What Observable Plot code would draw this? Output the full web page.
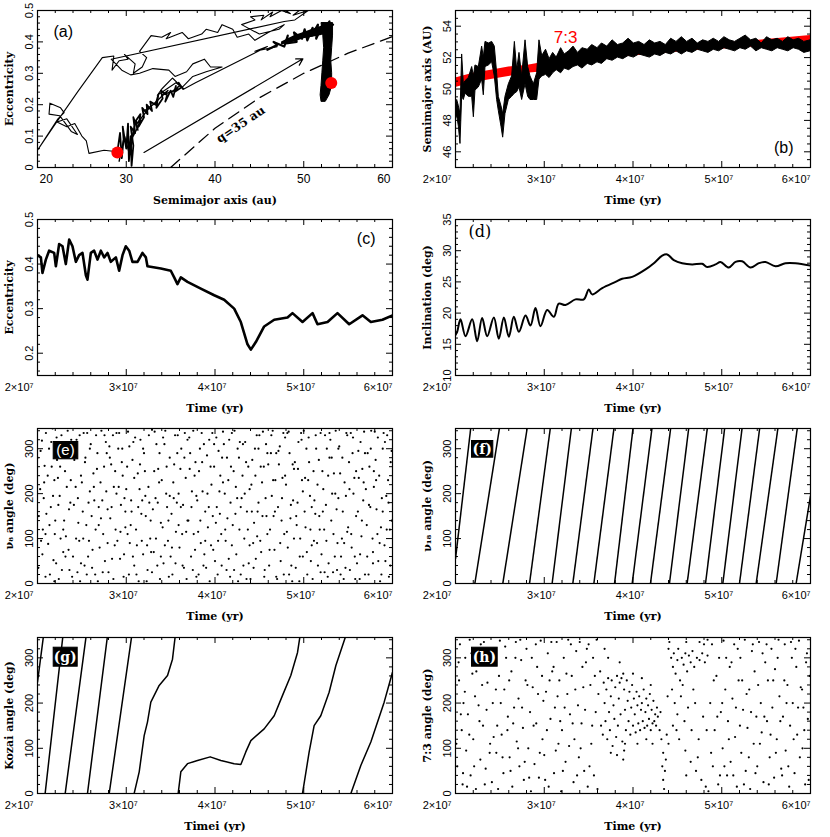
<!DOCTYPE html>
<html><head><meta charset="utf-8">
<script src="https://cdn.jsdelivr.net/npm/d3@7"></script>
<script src="https://cdn.jsdelivr.net/npm/@observablehq/plot@0.6"></script>
<style>
body{margin:0;background:#fff}
#wrap{position:relative;width:830px;height:837px;background:#fff}
</style>
</head><body><div id="wrap"></div>
<script>
// ---------- tick labels ----------
const timeVals = [20, 30, 40, 50, 60]; // Myr
const timeLabels = ["2×10⁷", "3×10⁷", "4×10⁷", "5×10⁷", "6×10⁷"];
const aAxisVals = [20, 30, 40, 50, 60];
const aAxisLabels = ["20", "30", "40", "50", "60"];
const eccVals = [0, 0.1, 0.2, 0.3, 0.4, 0.5];
const eccLabels = ["0", "0.1", "0.2", "0.3", "0.4", "0.5"];
const smaVals = [46, 48, 50, 52, 54];
const smaLabels = ["46", "48", "50", "52", "54"];
const ecc2Vals = [0.2, 0.3, 0.4, 0.5];
const ecc2Labels = ["0.2", "0.3", "0.4", "0.5"];
const incVals = [10, 15, 20, 25, 30, 35];
const incLabels = ["10", "15", "20", "25", "30", "35"];
const angVals = [0, 100, 200, 300];
const angLabels = ["0", "100", "200", "300"];

// ---------- panel (a) ----------
const aThin = [[29.0,0.05],[27.5,0.055],[25.8,0.045],[25.5,0.085],[25.0,0.1],[24.2,0.14],[23.3,0.13],[22.2,0.145],[23.3,0.155],[24.5,0.105],[23.8,0.115],[22.5,0.165],[21.3,0.17],[21.4,0.205],[22.6,0.19],[23.0,0.175],[22.3,0.155],[20.0,0.055],[21.8,0.13],[24.5,0.24],[27.3,0.35],[28.6,0.355],[28.4,0.31],[29.2,0.34],[30.2,0.345],[29.8,0.36],[31.0,0.33],[30.8,0.3],[31.8,0.32],[32.3,0.35],[31.5,0.37],[32.8,0.42],[34.0,0.415],[35.0,0.43],[34.5,0.41],[36.3,0.43],[37.0,0.41],[38.5,0.425],[39.0,0.44],[40.3,0.43],[40.8,0.455],[42.0,0.44],[42.5,0.415],[43.8,0.425],[44.5,0.405],[46.0,0.43],[47.8,0.455],[47.2,0.44],[45.0,0.425],[43.0,0.455],[44.5,0.47],[44.0,0.48],[45.5,0.485],[45.2,0.47],[46.5,0.495],[46.2,0.48],[47.5,0.5],[48.5,0.49],[48.0,0.5],[49.5,0.5],[48.8,0.485],[50.5,0.5],[49.0,0.47],[47.8,0.465],[28.3,0.345],[29.5,0.31],[30.5,0.295],[31.5,0.3],[33.0,0.315],[34.8,0.31],[35.5,0.29],[36.8,0.305],[37.5,0.33],[38.8,0.345],[39.5,0.32],[40.8,0.32],[39.0,0.305],[37.5,0.29],[36.3,0.255],[35.2,0.285],[34.0,0.25],[33.5,0.23],[35.6,0.27],[36.5,0.25],[37.8,0.27],[45.9,0.385],[44.5,0.37],[47.0,0.385]];
const aDense = [[29.0,0.05],[29.3,0.11],[29.5,0.03],[29.7,0.09],[29.6,0.13],[30.0,0.06],[30.2,0.14],[30.3,0.02],[30.5,0.1],[30.6,0.005],[30.8,0.07],[30.5,0.13],[31.0,0.11],[30.8,0.16],[31.3,0.12],[31.1,0.15],[31.6,0.17],[31.4,0.13],[32.0,0.16],[31.8,0.19],[32.4,0.17],[32.3,0.2],[32.9,0.18],[32.7,0.21],[33.3,0.2],[33.6,0.23],[33.4,0.19],[34.1,0.22],[33.9,0.245],[34.6,0.23],[34.4,0.21],[35.0,0.245],[35.3,0.225],[35.6,0.26],[35.4,0.24],[36.2,0.255],[35.9,0.27],[36.4,0.25]];
const aDense2 = [[29.2,0.02],[29.8,0.1],[30.4,0.04],[30.9,0.13],[30.6,0.09],[31.7,0.15],[31.2,0.14],[32.6,0.19],[32.0,0.18],[33.5,0.21],[33.0,0.2],[34.7,0.245],[34.0,0.23],[35.8,0.25],[35.1,0.24],[36.0,0.26]];
const aBlobLine = [[45.9,0.375],[47.0,0.39],[46.6,0.40],[47.8,0.385],[48.2,0.42],[48.0,0.395],[49.2,0.40],[48.9,0.43],[49.8,0.41],[50.1,0.44],[50.4,0.405],[51.0,0.445],[50.9,0.42],[51.6,0.455],[51.4,0.41],[52.2,0.46],[52.0,0.43],[52.9,0.465],[52.6,0.44],[53.3,0.455]];
const blobA = [47.5, 49, 50, 51, 52, 53];
const blobLo = [0.39, 0.40, 0.41, 0.415, 0.42, 0.43];
const blobHi = [0.40, 0.42, 0.43, 0.44, 0.45, 0.46];
const bandE = [0.21, 0.23, 0.26, 0.30, 0.34, 0.38, 0.42, 0.46];
const bandL = [52.0, 51.9, 52.0, 52.1, 52.2, 52.3, 52.2, 52.0];
const bandR = [52.5, 52.9, 53.2, 53.2, 53.1, 53.2, 53.3, 53.3];
const qA = [35, 40, 45, 50, 55, 60];
const qE = [0, 0.125, 0.222, 0.3, 0.364, 0.417];
const dotA = [29.0, 53.1];
const dotE = [0.048, 0.269];
const arrowA = [32.0, 49.9];
const arrowE = [0.048, 0.346];
const qLabel = {a: 42.9, e: 0.137, text: "q=35 au"};

// ---------- panel (b) ----------
const bT = [20.0,20.19,20.38,20.56,20.75,20.94,21.13,21.5,21.88,22.07,22.25,22.63,23.0,23.19,23.38,23.76,24.13,24.43,24.69,24.88,25.18,25.37,25.63,26.01,26.38,26.69,26.95,27.21,27.51,27.89,28.19,28.45,28.83,29.2,29.46,
  29.77,30.2,30.6,31.0,31.4,31.9,32.3,32.8,33.3,33.8,34.3,34.9,35.4,36.0,36.5,37.1,37.7,38.3,38.9,39.5,40.1,40.7,41.3,41.9,42.5,43.1,43.7,44.3,44.9,45.5,46.1,46.7,47.3,47.9,48.5,49.1,49.7,50.3,50.9,51.5,52.1,52.7,53.3,53.9,54.5,55.1,55.7,56.3,56.9,57.5,58.1,58.7,59.3,60.0];
const bHi = [48.9,49.3,48.9,48.4,52.2,50.3,50.5,50.7,51.4,50.8,51.5,51.4,52.7,52.0,53.0,52.9,53.0,52.7,51.0,49.5,48.9,48.4,49.5,50.3,50.8,53.0,51.2,52.3,50.8,53.1,51.4,50.8,50.3,51.0,53.1,
  52.1,52.5,51.9,52.3,52.0,52.6,52.2,52.4,52.7,52.3,52.6,52.5,52.8,52.6,52.9,52.7,53.1,52.8,52.9,53.2,52.9,53.0,52.8,53.1,52.9,53.0,52.8,53.2,53.0,53.3,53.0,53.2,52.9,53.1,53.0,53.2,53.0,53.3,53.1,53.0,53.2,53.4,53.1,53.2,52.9,53.3,53.1,53.2,53.0,53.3,53.1,53.2,53.0,53.1];
const bLo = [48.0,48.3,47.6,46.5,49.5,49.3,49.7,49.5,49.5,48.2,49.9,50.1,50.6,49.6,51.4,51.5,51.7,50.8,49.3,48.6,47.6,46.9,48.4,49.3,49.5,49.7,49.8,50.1,49.3,50.3,49.5,49.3,49.3,49.3,50.6,
  50.8,50.9,50.7,51.0,51.2,51.0,51.3,51.2,51.4,51.5,51.3,51.6,51.5,51.7,51.6,51.9,51.8,52.0,51.9,52.1,52.0,52.2,52.1,52.0,52.2,52.1,52.3,52.2,52.4,52.2,52.4,52.3,52.5,52.4,52.3,52.5,52.4,52.6,52.5,52.4,52.6,52.5,52.7,52.4,52.6,52.5,52.4,52.6,52.5,52.4,52.6,52.5,52.3,52.4];
const rT = [20,22,24,26,28,30,32,34,36,38,40,44,48,52,56,60];
const rLo = [50.1,50.4,50.6,50.8,51.0,51.1,51.3,51.6,51.8,52.0,52.1,52.3,52.5,52.6,52.8,53.0];
const rHi = [50.7,51.0,51.2,51.4,51.5,51.7,51.9,52.1,52.3,52.5,52.6,52.7,52.9,53.0,53.2,53.4];
const resLabel = {t: 32.4, a: 53.3, text: "7:3"};

// ---------- panel (c) ----------
const cT = [20.0,20.38,20.56,20.94,21.31,21.88,22.07,22.44,22.82,23.19,23.57,23.94,24.32,24.69,25.07,25.45,25.63,26.01,26.38,26.76,27.14,27.51,27.89,28.26,28.83,29.2,29.58,29.95,30.33,30.7,31.27,31.83,32.21,32.39,33.9,35.02,35.4,35.77,36.15,36.9,38.4,39.91,41.03,42.16,42.91,43.66,44.04,44.6,45.54,46.67,48.17,48.73,49.86,50.99,51.55,52.68,53.8,55.12,56.62,57.56,58.87,60.0];
const cE = [0.42,0.415,0.38,0.41,0.43,0.425,0.395,0.445,0.44,0.40,0.455,0.44,0.405,0.42,0.425,0.375,0.365,0.425,0.43,0.41,0.43,0.415,0.425,0.405,0.415,0.385,0.42,0.44,0.43,0.405,0.405,0.425,0.415,0.395,0.39,0.385,0.37,0.355,0.37,0.36,0.345,0.33,0.32,0.30,0.27,0.22,0.208,0.225,0.26,0.275,0.28,0.29,0.27,0.29,0.265,0.27,0.29,0.265,0.285,0.27,0.275,0.285];

// ---------- panel (d) ----------
const dT = [20.0,20.19,20.56,21.13,21.88,22.44,23.0,23.57,24.32,24.88,25.45,26.01,26.57,27.14,27.89,28.45,29.01,29.58,30.33,31.08,31.64,32.39,33.52,34.46,35.02,35.4,36.53,38.03,38.78,39.91,41.41,42.35,43.29,43.85,44.6,45.54,46.67,47.79,48.36,49.3,49.86,50.8,51.55,52.3,53.24,54.18,54.93,56.06,57.18,58.31,60.0];
const dI = [16.5,17,19,16.3,19,15.5,19.2,16.3,19.3,15.9,19.3,16.2,19.4,17,19.6,18,20.8,17.9,20.5,19.4,21.5,21.3,22.2,22.2,23.8,23,24,25,25.5,25.8,27,28,29.2,29.4,28.5,28,27.8,27.9,27.4,27.8,28.2,27.3,28.2,28.3,27.3,28,28.2,27.5,28,28,27.6];

// ---------- panel (e): nu8 angle samples [t, angle] ----------
const ePts = [20.1,35,20.3,210,20.5,318,20.6,120,20.8,262,20.9,15,21.2,88,21.3,300,21.5,170,21.7,345,21.8,52,21.9,230,22.0,140,22.2,275,22.4,10,22.5,195,22.7,330,22.9,70,23.1,250,23.2,105,23.4,340,23.6,30,23.7,180,23.9,290,24.0,60,24.3,215,24.4,320,24.6,135,24.8,5,24.9,240,25.1,160,25.3,40,25.4,280,25.6,335,25.8,95,25.9,205,26.0,310,26.2,75,26.4,185,26.5,20,26.7,255,26.9,130,27.1,225,27.2,340,27.4,110,27.6,50,27.8,290,27.9,165,28.0,25,28.2,145,28.3,265,28.5,330,28.7,85,28.9,200,29.1,300,29.3,55,29.4,175,29.6,240,29.7,15,29.9,125,30.0,210,30.2,338,30.4,90,30.6,160,30.7,275,30.9,40,31.1,120,31.3,245,31.4,5,31.6,320,31.8,185,31.9,65,32.0,290,32.2,150,32.4,30,32.5,215,32.7,100,32.9,342,33.1,70,33.3,190,33.4,310,33.6,255,33.8,10,33.9,135,34.0,230,34.2,45,34.4,340,34.6,170,34.7,95,34.9,280,35.1,155,35.2,20,35.4,265,35.6,115,35.8,330,35.9,200,36.0,80,36.2,300,36.4,175,36.5,35,36.7,235,36.9,140,37.1,325,37.3,60,37.4,205,37.6,110,37.8,270,37.9,15,38.0,185,38.2,250,38.4,90,38.5,335,38.7,40,38.9,160,39.1,285,39.2,125,39.4,5,39.6,220,39.8,75,39.9,310,40.0,50,40.2,170,40.4,295,40.6,240,40.7,110,40.9,338,41.1,200,41.3,30,41.4,145,41.6,320,41.8,260,41.9,85,42.0,130,42.2,340,42.4,65,42.5,190,42.7,280,42.9,20,43.1,240,43.3,100,43.4,315,43.6,160,43.8,45,43.9,210,44.0,10,44.2,275,44.4,135,44.6,55,44.7,330,44.9,180,45.1,95,45.3,225,45.4,338,45.6,30,45.8,150,45.9,290,46.0,265,46.2,120,46.4,195,46.5,340,46.7,75,46.9,15,47.1,170,47.3,305,47.4,50,47.6,235,47.8,110,47.9,325,48.0,220,48.2,80,48.4,290,48.5,145,48.7,5,48.9,255,49.1,35,49.3,180,49.4,315,49.6,100,49.8,230,49.9,60,50.0,340,50.2,125,50.4,20,50.6,270,50.7,195,50.9,85,51.1,250,51.3,155,51.4,300,51.6,40,51.8,120,51.9,335,52.0,65,52.2,210,52.4,330,52.5,175,52.7,15,52.9,280,53.1,140,53.3,25,53.4,245,53.6,340,53.8,90,53.9,190,54.0,305,54.2,60,54.4,160,54.6,225,54.7,35,54.9,115,55.1,270,55.3,335,55.4,80,55.6,200,55.8,10,55.9,150,56.0,45,56.2,235,56.4,315,56.5,105,56.7,185,56.9,290,57.1,130,57.3,20,57.4,260,57.6,340,57.8,70,57.9,215,58.0,338,58.2,165,58.4,50,58.5,240,58.7,125,58.9,300,59.1,85,59.3,195,59.4,330,59.6,15,59.8,270,59.9,140,
20.0,280,20.4,95,20.7,190,20.95,335,21.0,155,21.4,20,21.6,260,21.95,110,22.1,45,22.3,235,22.6,100,22.8,305,23.0,140,23.3,215,23.5,75,23.8,320,24.1,175,24.2,290,24.5,25,24.7,95,25.0,225,25.2,335,25.5,130,25.7,60,26.1,150,26.3,245,26.6,330,26.8,5,27.0,80,27.3,185,27.5,260,27.7,315,28.1,305,28.4,55,28.6,215,28.8,120,29.0,95,29.2,335,29.5,270,29.8,190,30.1,260,30.3,20,30.5,130,30.8,315,31.0,325,31.2,85,31.5,210,31.7,155,32.1,250,32.3,5,32.6,180,32.8,70,33.0,165,33.2,338,33.5,40,33.7,225,34.1,125,34.3,310,34.5,200,34.8,15,35.0,60,35.3,225,35.5,330,35.7,180,36.1,255,36.3,110,36.6,335,36.8,10,37.0,140,37.2,290,37.5,30,37.7,240,38.1,115,38.3,300,38.6,205,38.8,65,39.0,35,39.3,170,39.5,260,39.7,335,40.1,135,40.3,20,40.5,205,40.8,280,41.0,310,41.2,95,41.5,230,41.7,15,42.1,250,42.3,155,42.6,5,42.8,315,43.0,190,43.2,40,43.5,270,43.7,120,44.1,220,44.3,90,44.5,300,44.8,160,45.0,330,45.2,70,45.5,260,45.7,190,46.1,40,46.3,290,46.6,150,46.8,230,47.0,10,47.2,265,47.5,140,47.7,335,48.1,115,48.3,338,48.6,40,48.8,185,49.0,270,49.2,130,49.5,5,49.7,335,50.1,160,50.3,300,50.5,230,50.8,50,51.0,10,51.2,185,51.5,90,51.7,275,52.1,250,52.3,120,52.6,300,52.8,45,53.0,320,53.2,200,53.5,60,53.7,165,54.1,245,54.3,100,54.5,10,54.8,335,55.0,125,55.2,30,55.5,290,55.7,235,56.1,160,56.3,10,56.6,255,56.8,338,57.0,210,57.2,290,57.5,170,57.8,45,58.1,275,58.3,110,58.6,5,58.8,190,59.0,335,59.2,50,59.5,230,59.7,120,
20.15,150,20.35,295,20.55,65,20.75,225,20.9,110,21.15,240,21.35,130,21.55,315,21.75,195,21.9,5,22.15,325,22.35,175,22.55,260,22.75,30,22.9,120,23.15,60,23.35,290,23.55,165,23.75,230,23.9,15,24.15,275,24.35,100,24.55,190,24.75,330,24.9,45,25.15,100,25.35,270,25.55,20,25.75,180,25.9,300,26.15,35,26.35,215,26.55,120,26.75,290,26.9,170,27.15,145,27.35,25,27.55,330,27.75,205,27.9,90,28.15,280,28.35,170,28.55,10,28.75,250,28.9,335,29.15,215,29.35,115,29.55,300,29.75,65,29.9,160,30.15,110,30.35,305,30.55,185,30.75,60,30.9,235,31.15,20,31.35,170,31.55,265,31.75,95,31.9,300,32.15,195,32.35,85,32.55,330,32.75,140,32.9,25,33.15,250,33.35,100,33.55,180,33.75,290,33.9,60,34.15,325,34.35,85,34.55,260,34.75,140,34.9,195,35.15,80,35.35,190,35.55,45,35.75,290,35.9,130,36.15,170,36.35,40,36.55,280,36.75,115,36.9,320,37.15,255,37.35,170,37.55,340,37.75,75,37.9,195,38.15,20,38.35,140,38.55,270,38.75,310,38.9,95,39.15,200,39.35,320,39.55,85,39.75,150,39.9,260,40.15,325,40.35,95,40.55,155,40.75,40,40.9,225,41.15,120,41.35,280,41.55,55,41.75,180,41.9,335,42.15,30,42.35,215,42.55,300,42.75,120,42.9,170,43.15,310,43.35,200,43.55,10,43.75,260,43.9,85,44.15,160,44.35,35,44.55,240,44.75,105,44.9,300,45.15,260,45.35,150,45.55,15,45.75,310,45.9,110,46.15,75,46.35,330,46.55,230,46.75,160,46.9,290,47.15,295,47.35,90,47.55,190,47.75,20,47.9,240,48.15,335,48.35,20,48.55,175,48.75,265,48.9,100,49.15,150,49.35,255,49.55,60,49.75,320,49.9,205,50.15,235,50.35,70,50.55,325,50.75,120,50.9,170,51.15,95,51.35,330,51.55,220,51.75,150,51.9,25,52.15,160,52.35,25,52.55,95,52.75,240,52.9,335,53.15,280,53.35,110,53.55,200,53.75,30,53.9,300,54.15,20,54.35,280,54.55,90,54.75,195,54.9,330,55.15,210,55.35,110,55.55,325,55.75,60,55.9,250,56.15,295,56.35,65,56.55,140,56.75,225,56.9,20,57.15,60,57.35,175,57.55,300,57.75,100,57.9,250,58.15,230,58.35,325,58.55,90,58.75,20,58.9,160,59.15,315,59.35,120,59.55,180,59.75,40,59.9,295];

// ---------- panel (f): nu18 circulation segments ----------
const fStart = [20.0,22.18,25.33,28.34,30.89,33.22,35.59,37.92,39.91,41.97,44.11,46.1,48.17,50.12,52.0,53.88,56.13,58.38];
const fStartAngle = [55,0,0,0,0,0,0,0,0,0,0,0,0,0,0,0,0,0];
const fEnd = [21.8,25.07,28.19,30.78,33.15,35.59,37.95,40.09,42.23,44.34,46.37,48.47,50.42,52.38,54.37,56.43,58.61,60.0];
const fEndAngle = [360,360,360,360,360,360,360,360,360,360,360,360,360,360,360,360,360,195];

// ---------- panel (g): Kozai angle branches ----------
const gLines = [
  [[20.0,246],[20.75,360]],
  [[20.86,0],[22.93,360]],
  [[23.12,0],[25.56,360]],
  [[25.63,0],[27.96,360]],
  [[28.08,0],[30.7,360]],
  [[30.89,0],[31.46,48],[32.02,128],[32.39,158],[32.77,202],[33.71,239],[34.65,261],[35.21,297],[35.59,360]],
  [[35.85,0],[36.15,48],[36.9,66],[38.03,73],[39.46,81],[40.66,73],[42.16,66],[42.91,64],[43.47,92],[44.04,117],[45.54,143],[46.67,172],[47.61,217],[48.54,261],[49.3,312],[49.67,360]],
  [[49.86,0],[50.61,92],[51.17,150],[51.92,172],[52.86,224],[53.62,283],[54.93,360]],
  [[55.31,0],[56.43,62],[57.56,114],[59.06,202],[60.0,268]]
];

// ---------- panel (h): 7:3 resonant angle samples [t, angle] ----------
const hPts = [20.2,60,20.4,250,20.5,330,20.7,140,20.8,20,20.9,200,21.1,300,21.2,95,21.4,175,21.6,340,21.7,40,21.9,265,22.0,120,22.2,215,22.3,10,22.5,310,22.7,160,22.8,75,23.0,240,23.2,335,23.4,55,23.5,185,23.7,285,23.9,110,24.1,25,24.2,200,24.4,320,24.6,90,24.7,150,24.9,260,25.0,338,25.2,130,25.4,45,25.5,230,25.7,300,25.9,170,26.1,80,26.3,270,26.4,15,26.6,190,26.8,335,26.9,115,27.1,210,27.2,60,27.4,295,27.6,145,27.7,30,27.9,250,28.0,320,28.2,100,28.4,180,28.5,5,28.7,235,28.9,65,29.1,155,29.2,280,29.4,35,29.6,338,29.8,120,29.9,205,30.0,85,30.2,225,30.4,310,30.5,15,30.7,165,30.9,270,31.1,45,31.2,190,31.4,335,31.6,110,31.7,250,31.9,5,32.0,140,32.2,300,32.4,70,32.6,220,32.7,340,32.9,175,33.1,260,33.3,25,33.4,120,33.6,315,33.8,195,33.9,80,34.0,335,34.2,155,34.4,235,34.5,50,34.7,290,34.9,15,
35.0,330,35.2,240,35.3,110,35.5,300,35.6,40,35.8,180,35.9,340,36.0,10,36.1,220,36.3,270,36.4,150,
36.6,130,36.7,245,36.8,200,36.9,160,37.0,230,37.1,120,37.2,255,37.3,180,37.4,140,37.5,215,37.6,250,37.7,105,37.8,195,37.9,165,38.0,235,38.1,125,38.2,260,38.3,150,38.4,210,38.5,245,38.6,175,38.7,255,38.8,115,38.9,265,39.0,230,39.0,95,39.1,185,39.2,140,39.3,250,39.4,205,39.5,160,39.6,225,39.7,130,39.8,190,39.9,240,40.0,150,40.1,210,40.2,175,40.3,135,40.4,225,40.5,195,40.6,155,40.7,215,40.8,140,40.9,185,41.0,200,41.1,160,41.2,230,41.3,145,41.4,180,41.5,210,41.6,150,41.7,195,41.8,165,41.9,220,42.0,140,42.1,185,42.2,155,42.3,205,42.4,160,42.5,175,42.6,150,42.7,190,42.8,170,
37.2,300,36.8,320,38.2,85,38.9,75,39.1,110,40.5,110,41.5,120,42.2,110,37.5,90,40.0,265,41.0,255,42.0,240,38.5,290,
43.0,140,43.2,120,43.3,60,43.4,30,43.4,90,43.5,10,43.6,50,43.7,75,43.1,180,43.8,130,44.0,110,44.1,335,44.0,320,43.9,215,
44.3,300,44.5,280,44.6,310,44.8,265,45.0,295,45.1,320,45.3,250,45.5,300,45.7,285,45.9,310,46.1,270,46.3,305,46.5,290,46.7,315,46.9,280,47.2,300,47.5,295,47.8,310,48.1,290,48.4,305,
44.4,230,44.7,200,45.0,175,45.4,215,45.8,160,46.2,190,46.6,140,47.0,200,47.4,120,47.9,170,48.3,140,45.6,240,46.8,230,44.9,140,
44.5,150,45.2,120,45.9,95,46.5,70,47.1,50,47.7,30,48.2,15,48.5,5,47.3,80,46.0,40,47.5,335,48.0,330,48.4,340,46.0,335,
48.7,200,48.9,330,49.0,60,49.2,140,49.4,260,49.6,20,49.7,300,49.9,180,50.1,100,50.2,338,50.4,230,50.6,40,50.7,160,50.9,280,51.0,70,51.2,210,51.4,330,51.5,125,51.7,15,51.9,250,52.1,300,52.2,90,52.4,185,52.6,340,52.7,50,52.9,145,53.1,230,53.2,10,53.4,315,53.6,110,53.7,270,53.9,170,54.0,60,54.2,335,54.4,200,54.5,135,54.7,25,54.9,290,55.1,160,55.2,250,55.4,80,55.6,320,55.7,190,55.9,35,56.0,275,56.2,120,56.4,340,56.5,215,56.7,55,56.9,170,57.1,330,57.2,95,57.4,240,57.6,15,57.7,150,57.9,300,58.0,200,58.2,45,58.4,280,58.5,130,58.7,338,58.9,235,59.1,100,59.2,190,59.4,20,59.6,310,59.7,165,59.9,260,
20.1,110,20.35,290,20.6,175,20.85,45,21.05,225,21.3,15,21.55,130,21.8,310,22.1,60,22.35,270,22.6,195,22.85,330,23.1,150,23.3,20,23.6,245,23.85,90,24.05,300,24.3,125,24.55,230,24.8,10,25.1,200,25.3,80,25.6,325,25.85,140,26.05,250,26.2,50,26.5,155,26.75,300,27.05,100,27.3,340,27.5,190,27.8,70,28.1,240,28.3,35,28.6,300,28.8,150,29.05,330,29.3,220,29.5,90,29.75,260,30.1,30,30.3,140,30.6,250,30.8,335,31.05,280,31.3,95,31.5,215,31.8,160,32.1,50,32.3,190,32.5,265,32.8,105,33.0,330,33.2,155,33.5,230,33.7,40,34.1,100,34.3,280,34.6,185,34.8,320,35.1,60,35.4,150,35.7,260,
48.8,90,49.1,250,49.5,170,49.8,40,50.05,200,50.3,60,50.5,300,50.8,120,51.1,290,51.3,40,51.6,190,51.8,320,52.05,150,52.3,250,52.5,20,52.8,220,53.05,80,53.3,180,53.5,330,53.8,45,54.1,240,54.3,110,54.6,310,54.8,170,55.05,330,55.3,20,55.5,130,55.8,250,56.1,90,56.3,300,56.6,160,56.8,40,57.05,250,57.3,200,57.5,60,57.8,335,58.1,120,58.3,320,58.6,190,58.8,80,59.05,230,59.3,140,59.5,290,59.8,30];

// ---------- layout helpers ----------
const W = 415, H = 209, MT = 10, IW = 355;
const SANS = "'Liberation Sans', Arial, sans-serif";
const SERIF = "'DejaVu Serif', serif";
const pairs = flat => d3.range(flat.length / 2).map(i => [flat[2 * i], flat[2 * i + 1]]);
const minorOf = (lo, hi, step, majorStep) => d3.range(Math.round((hi - lo) / step) + 1)
  .map(i => +(lo + i * step).toFixed(4))
  .filter(v => Math.abs(v / majorStep - Math.round(v / majorStep)) > 1e-6);

const timeAxis = {domain: [20, 60], vals: timeVals, labels: timeLabels, minor: minorOf(20, 60, 2, 10), firstAnchor: "end", firstDx: -4, midDx: -3, lastDx: 0};
const angAxis = {domain: [0, 345], vals: angVals, labels: angLabels, minor: minorOf(0, 340, 20, 100)};

function panel(o) {
  const ih = o.ih, ml = o.col ? 40 : 37, mr = W - ml - IW, mb = H - MT - ih;
  const X = o.x, Y = o.y, n = X.vals.length;
  const lab = {fontFamily: SANS, fontSize: X.fontSize || 11, fill: "black"};
  const ylab = {fontFamily: SANS, fontSize: 11, fill: "black"};
  const ttl = {fontFamily: SERIF, fontSize: 11, fontWeight: "bold", fill: "black"};
  const xt = (idx, anchor, dx) => Plot.text(idx, {x: i => X.vals[i], text: i => X.labels[i], frameAnchor: "bottom", dy: 12, lineAnchor: "middle", textAnchor: anchor, dx, ...lab});
  const marks = [
    ...o.marks,
    Plot.ruleX(X.vals, {insetTop: ih - 6}),
    Plot.ruleX(X.vals, {insetBottom: ih - 6}),
    Plot.ruleX(X.minor, {insetTop: ih - 3}),
    Plot.ruleX(X.minor, {insetBottom: ih - 3}),
    Plot.ruleY(Y.vals, {insetRight: IW - 6}),
    Plot.ruleY(Y.vals, {insetLeft: IW - 6}),
    Plot.ruleY(Y.minor, {insetRight: IW - 3}),
    Plot.ruleY(Y.minor, {insetLeft: IW - 3}),
    Plot.frame({strokeWidth: 1.2}),
    xt([0], X.firstAnchor, X.firstDx),
    xt(d3.range(1, n - 1), "middle", X.midDx),
    xt([n - 1], "end", X.lastDx),
    Plot.text(d3.range(Y.vals.length), {y: i => Y.vals[i], text: i => Y.labels[i], frameAnchor: "left", rotate: -90, textAnchor: "middle", lineAnchor: "middle", dx: -8, ...ylab}),
    Plot.text([o.xTitle], {text: d => d, frameAnchor: "bottom", dy: 33, textAnchor: "middle", lineAnchor: "middle", ...ttl}),
    Plot.text([o.yTitle], {text: d => d, frameAnchor: "left", rotate: -90, dx: -28, textAnchor: "middle", lineAnchor: "middle", ...ttl})
  ];
  const t = o.tag;
  if (t.box) {
    const [L, T, w, h] = t.box;
    marks.push(Plot.frame({fill: "black", stroke: "black", insetLeft: L, insetTop: T, insetRight: IW - L - w, insetBottom: ih - T - h}));
    marks.push(Plot.text([t.text], {text: d => d, frameAnchor: "top-left", dx: L + w / 2, dy: T + h / 2 + 0.5, textAnchor: "middle", lineAnchor: "middle", fill: "white", fontFamily: t.font, fontSize: t.size, fontWeight: t.weight || "normal"}));
  } else {
    marks.push(Plot.text([t.text], {text: d => d, frameAnchor: t.anchor, dx: t.dx, dy: t.dy, textAnchor: t.textAnchor, lineAnchor: "middle", fill: "black", fontFamily: t.font, fontSize: t.size}));
  }
  const svg = Plot.plot({
    width: W, height: H, marginLeft: ml, marginRight: mr, marginTop: MT, marginBottom: mb,
    x: {domain: X.domain, axis: null}, y: {domain: Y.domain, axis: null},
    style: {background: "white", overflow: "visible", fontFamily: SANS},
    marks
  });
  svg.style.position = "absolute";
  svg.style.left = (o.col ? 415 : 0) + "px";
  svg.style.top = o.top + "px";
  document.getElementById("wrap").appendChild(svg);
}

const idx = arr => d3.range(arr.length);

// (a)
panel({
  col: 0, top: 0, ih: 157,
  x: {domain: [20, 60], vals: aAxisVals, labels: aAxisLabels, minor: minorOf(20, 60, 2, 10), firstAnchor: "start", firstDx: 2, midDx: 0, lastDx: -2, fontSize: 12},
  y: {domain: [0, 0.5], vals: eccVals, labels: eccLabels, minor: minorOf(0, 0.5, 0.02, 0.1)},
  xTitle: "Semimajor axis (au)", yTitle: "Eccentricity",
  tag: {text: "(a)", anchor: "top-left", dx: 16, dy: 21, textAnchor: "start", font: SANS, size: 16},
  marks: [
    Plot.line(idx(qA), {x: i => qA[i], y: i => qE[i], strokeDasharray: "12,7", strokeWidth: 1.3, clip: true}),
    Plot.areaY(idx(blobA), {x: i => blobA[i], y1: i => blobLo[i], y2: i => blobHi[i], fill: "black", clip: true}),
    Plot.areaX(idx(bandE), {y: i => bandE[i], x1: i => bandL[i], x2: i => bandR[i], fill: "black", stroke: "black", strokeWidth: 1, clip: true}),
    Plot.line(aThin, {x: d => d[0], y: d => d[1], strokeWidth: 1.1, clip: true}),
    Plot.line(aDense, {x: d => d[0], y: d => d[1], strokeWidth: 1.8, clip: true}),
    Plot.line(aDense2, {x: d => d[0], y: d => d[1], strokeWidth: 1.4, clip: true}),
    Plot.line(aBlobLine, {x: d => d[0], y: d => d[1], strokeWidth: 2.2, clip: true}),
    Plot.arrow([0], {x1: () => arrowA[0], y1: () => arrowE[0], x2: () => arrowA[1], y2: () => arrowE[1], strokeWidth: 1.2, headLength: 9}),
    Plot.dot(idx(dotA), {x: i => dotA[i], y: i => dotE[i], r: 6, fill: "red"}),
    Plot.text([qLabel], {x: d => d.a, y: d => d.e, text: d => d.text, rotate: -34, fontFamily: SERIF, fontSize: 12, fontWeight: "bold", fill: "black"})
  ]
});

// (b)
panel({
  col: 1, top: 0, ih: 157, x: timeAxis,
  y: {domain: [45, 55], vals: smaVals, labels: smaLabels, minor: minorOf(45, 55, 0.5, 2)},
  xTitle: "Time (yr)", yTitle: "Semimajor axis (AU)",
  tag: {text: "(b)", anchor: "bottom-right", dx: -17, dy: -20, textAnchor: "end", font: SANS, size: 16},
  marks: [
    Plot.areaY(idx(rT), {x: i => rT[i], y1: i => rLo[i], y2: i => rHi[i], fill: "#ff0000", clip: true}),
    Plot.areaY(idx(bT), {x: i => bT[i], y1: i => bLo[i], y2: i => bHi[i], fill: "black", stroke: "black", strokeWidth: 1, clip: true}),
    Plot.text([resLabel], {x: d => d.t, y: d => d.a, text: d => d.text, fill: "#ff0000", fontFamily: SANS, fontSize: 17})
  ]
});

// (c)
panel({
  col: 0, top: 209, ih: 156, x: timeAxis,
  y: {domain: [0.15, 0.5], vals: ecc2Vals, labels: ecc2Labels, minor: minorOf(0.16, 0.5, 0.02, 0.1)},
  xTitle: "Time (yr)", yTitle: "Eccentricity",
  tag: {text: "(c)", anchor: "top-right", dx: -17, dy: 19, textAnchor: "end", font: SANS, size: 16},
  marks: [
    Plot.line(idx(cT), {x: i => cT[i], y: i => cE[i], strokeWidth: 2.6, clip: true})
  ]
});

// (d)
panel({
  col: 1, top: 209, ih: 156, x: timeAxis,
  y: {domain: [10, 35], vals: incVals, labels: incLabels, minor: minorOf(10, 35, 1, 5)},
  xTitle: "Time (yr)", yTitle: "Inclination (deg)",
  tag: {text: "(d)", anchor: "top-left", dx: 13, dy: 12, textAnchor: "start", font: SERIF, size: 16},
  marks: [
    Plot.line(idx(dT), {x: i => dT[i], y: i => dI[i], strokeWidth: 2, curve: "catmull-rom", clip: true})
  ]
});

// (e)
panel({
  col: 0, top: 418, ih: 155, x: timeAxis, y: angAxis,
  xTitle: "Time (yr)", yTitle: "ν₈ angle (deg)",
  tag: {text: "(e)", box: [15.7, 13, 24.6, 17.3], font: SANS, size: 15},
  marks: [
    Plot.dot(pairs(ePts), {x: d => d[0], y: d => d[1], r: 1.1, fill: "black", clip: true})
  ]
});

// (f)
panel({
  col: 1, top: 418, ih: 155, x: timeAxis, y: angAxis,
  xTitle: "Time (yr)", yTitle: "ν₁₈ angle (deg)",
  tag: {text: "(f)", box: [16, 12, 21.3, 16.7], font: SERIF, size: 14, weight: "bold"},
  marks: [
    Plot.link(idx(fStart), {x1: i => fStart[i], y1: i => fStartAngle[i], x2: i => fEnd[i], y2: i => fEndAngle[i], strokeWidth: 1.5, clip: true})
  ]
});

// (g)
const gRows = gLines.flatMap((seg, k) => seg.map(p => ({t: p[0], a: p[1], k})));
panel({
  col: 0, top: 627, ih: 156, x: timeAxis, y: angAxis,
  xTitle: "Timei (yr)", yTitle: "Kozai angle (deg)",
  tag: {text: "(g)", box: [15.7, 9.7, 24, 19], font: SERIF, size: 14, weight: "bold"},
  marks: [
    Plot.line(gRows, {x: "t", y: "a", z: "k", strokeWidth: 1.5, clip: true})
  ]
});

// (h)
panel({
  col: 1, top: 627, ih: 156, x: timeAxis, y: angAxis,
  xTitle: "Time (yr)", yTitle: "7:3 angle (deg)",
  tag: {text: "(h)", box: [16, 9.7, 25.7, 19], font: SERIF, size: 14, weight: "bold"},
  marks: [
    Plot.dot(pairs(hPts), {x: d => d[0], y: d => d[1], r: 1.1, fill: "black", clip: true})
  ]
});
</script>
</body></html>
